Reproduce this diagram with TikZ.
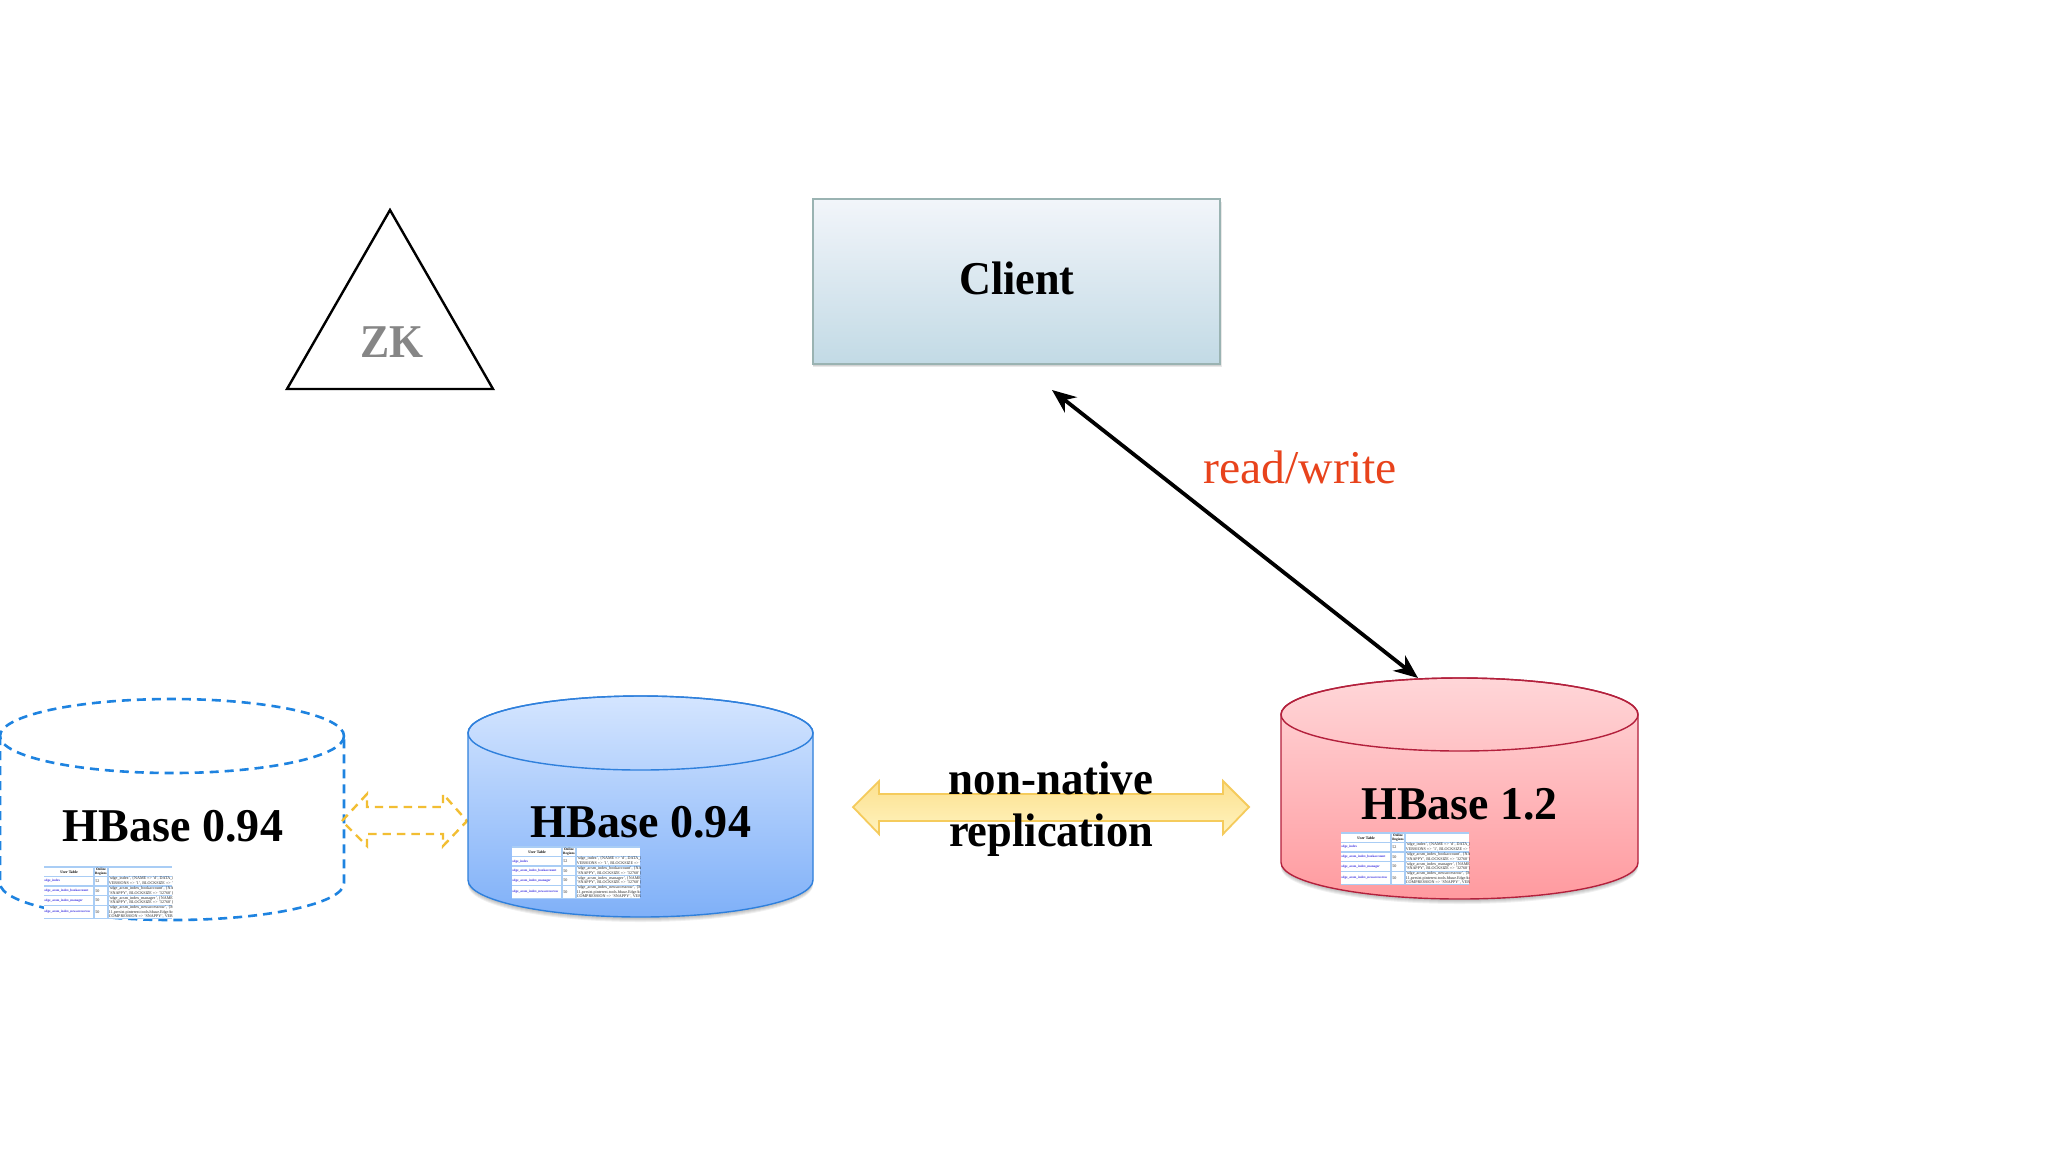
\documentclass[tikz,border=0pt]{standalone}
\usepackage{fontspec}
\usepackage{graphicx}
\usetikzlibrary{arrows.meta}
\setmainfont{Liberation Serif}
\definecolor{blueedge}{HTML}{2F80DC}
\definecolor{blueTop}{HTML}{D4E5FF}
\definecolor{blueBot}{HTML}{7FB0F8}
\definecolor{redEdge}{HTML}{B3203C}
\definecolor{redTop}{HTML}{FFD6D8}
\definecolor{redBot}{HTML}{FF9A9F}
\definecolor{dashblue}{HTML}{1E83E0}
\definecolor{dashyellow}{HTML}{F2BE33}
\definecolor{clientTop}{HTML}{F2F5FA}
\definecolor{clientBot}{HTML}{C2DAE5}
\definecolor{clientEdge}{HTML}{9AB3B2}
\definecolor{yellowEdge}{HTML}{F5CB5C}
\definecolor{yellowTop}{HTML}{FCE08F}
\definecolor{yellowBot}{HTML}{FFF3BE}
\definecolor{rwred}{HTML}{E8431C}
\definecolor{zkgray}{HTML}{868686}
\definecolor{gridblue}{HTML}{A9CDF5}
\definecolor{linkblue}{HTML}{3A2FE0}
\newcommand{\bigtext}{\fontsize{23.5pt}{26pt}\selectfont\bfseries}
\newcommand{\hbtable}[4]{% x, y, prefix, grid colour
  \begin{scope}[shift={(#1,#2)},name prefix=#3-]
    \fill[white] (0,0) rectangle (128,52);
    \draw[#4,line width=.6pt] (0,0) -- (128,0) (0,9.3) -- (128,9.3) (0,19) -- (128,19) (0,28.3) -- (128,28.3) (0,38.3) -- (128,38.3) (0,51.5) -- (128,51.5) (50,0) -- (50,51.5) (64,0) -- (64,51.5);
    \begin{scope}
      \clip (0,0) rectangle (128,52);
      \node[tabhead] (h1) at (25,4.7) {User Table};
      \node[tabhead,align=center,font=\fontsize{1.7pt}{2.1pt}\selectfont\bfseries] (h2) at (57,4.7) {Online\\Regions};
      \node[tablink] (a1) at (0,14.2) {sdge\_index};
      \node[tablink] (a2) at (0,23.7) {sdge\_acsm\_index\_bookaccount};
      \node[tablink] (a3) at (0,33.3) {sdge\_acsm\_index\_manager};
      \node[tablink] (a4) at (0,44.9) {sdge\_acsm\_index\_newaccessrow};
      \node[tabcell] (b1) at (51,14.2) {52};
      \node[tabcell] (b2) at (51,23.7) {50};
      \node[tabcell] (b3) at (51,33.3) {50};
      \node[tabcell] (b4) at (51,44.9) {50};
      \node[tabcell] (c1) at (64.5,14.2) {'sdge\_index', \{NAME => 'd', DATA\_BLOCK\\VERSIONS => '1', BLOCKSIZE => '6102};
      \node[tabcell] (c2) at (64.5,23.7) {'sdge\_acsm\_index\_bookaccount', \{NAME\\'SNAPPY', BLOCKSIZE => '32768'\}};
      \node[tabcell] (c3) at (64.5,33.3) {'sdge\_acsm\_index\_manager', \{NAME =>\\'SNAPPY', BLOCKSIZE => '32768'\}};
      \node[tabcell] (c4) at (64.5,44.9) {'sdge\_acsm\_index\_newaccessrow', \{METH\\11,persist.pinterest.tools.hbase.EdgeAccess\\COMPRESSION => 'SNAPPY', VERSIONS};
    \end{scope}
  \end{scope}}
\newcommand{\cylbody}[5]{% cx, upper cy, lower cy, rx, ry: outline with both the top and the bottom bulge
  (#1-#4,#2) -- (#1-#4,#3) arc[start angle=180,end angle=0,x radius=#4,y radius=#5] -- (#1+#4,#2) arc[start angle=360,end angle=180,x radius=#4,y radius=#5] -- cycle}
\tikzset{
  tabhead/.style={inner sep=0pt,text=black,font=\fontsize{1.9pt}{2.2pt}\selectfont\bfseries},
  tablink/.style={inner sep=0pt,anchor=west,text=linkblue,font=\fontsize{1.65pt}{2.2pt}\selectfont\bfseries},
  tabcell/.style={inner sep=0pt,anchor=west,align=left,text=black!85,font=\fontsize{2.05pt}{2.35pt}\selectfont},
  bigtxt/.style={inner sep=0pt,anchor=base,font=\bigtext,text=black},
  softshadow/.style={fill=black,opacity=.06,draw=none},
}
\begin{document}
\begin{tikzpicture}[x=.5pt,y=-.5pt]
\useasboundingbox (0,0) rectangle (2048,1152);
\fill[white] (0,0) rectangle (2048,1152);

% ZK triangle
\draw[black,line width=1.2pt,line join=miter] (390,210) -- (493,389) -- (287,389) -- cycle;
\node[bigtxt,text=zkgray] (zk) at (392,357) {\scalebox{.93}[1]{ZK}};

% Client
\foreach \d in {1,2,3} {\fill[black,opacity=.09] (813,199+\d) rectangle (1220+.5*\d,364+\d);}
\draw[clientEdge,line width=.7pt,top color=clientTop,bottom color=clientBot,middle color=clientBot!50!clientTop] (813,199) rectangle (1220,364);
\node[bigtxt] (client) at (1017,294) {\scalebox{.94}[1]{Client}};

% Dashed cylinder
\draw[dashblue,line width=1.3pt,dash pattern=on 4.5pt off 3pt] (0,736) -- (0,883) arc[start angle=180,end angle=0,x radius=172,y radius=37] -- (344,736);
\draw[dashblue,line width=1.3pt,dash pattern=on 4.5pt off 3pt] (172,736) ellipse[x radius=172,y radius=37];
\node[bigtxt] (old) at (173,841) {\scalebox{.98}[1]{HBase 0.94}};
\hbtable{44}{867}{t1}{gridblue}

% Dashed arrow
\draw[dashyellow,line width=1.2pt,dash pattern=on 4.2pt off 3pt]
  (342,821) -- (367,794) -- (367,807) -- (443,807) -- (443,794) -- (467,821) -- (443,846) -- (443,834) -- (367,834) -- (367,846) -- cycle;

% Blue cylinder
\foreach \d in {2,3,4,5} {\fill[softshadow] \cylbody{640.5}{733+\d}{880+\d}{172.5}{37};}
\draw[blueedge,line width=.7pt,top color=blueTop,bottom color=blueBot,middle color=blueTop!50!blueBot] \cylbody{640.5}{733}{880}{172.5}{37};
\draw[blueedge,line width=.7pt] (640.5,733) ellipse[x radius=172.5,y radius=37];
\node[bigtxt] (blue) at (641,837) {\scalebox{.98}[1]{HBase 0.94}};
\hbtable{512}{847}{t2}{gridblue}

% Red cylinder
\foreach \d in {2,3,4,5} {\fill[softshadow] \cylbody{1459.5}{714.5+\d}{862.5+\d}{178.5}{36.5};}
\draw[redEdge,line width=.7pt,top color=redTop,bottom color=redBot,middle color=redTop!50!redBot] \cylbody{1459.5}{714.5}{862.5}{178.5}{36.5};
\draw[redEdge,line width=.7pt] (1459.5,714.5) ellipse[x radius=178.5,y radius=36.5];
\node[bigtxt] (red) at (1459.5,819) {\scalebox{.975}[1]{HBase 1.2}};
\hbtable{1341}{833}{t3}{gridblue}

% Replication arrow
\draw[yellowEdge,line width=.9pt,line join=miter,top color=yellowTop,bottom color=yellowBot,middle color=yellowTop!50!yellowBot]
  (853,807) -- (879,781) -- (879,794) -- (1223,794) -- (1223,781) -- (1249,807) -- (1223,834) -- (1223,821) -- (879,821) -- (879,834) -- cycle;
\node[bigtxt] (rep1) at (1051,794) {\scalebox{.955}[1]{non-native}};
\node[bigtxt] (rep2) at (1051,846) {\scalebox{.945}[1]{replication}};

% read/write connector
\coordinate (rwtop) at (1052,390);
\coordinate (rwbottom) at (1418,678);
\draw[{Stealth[length=12pt,width=9.75pt]}-{Stealth[length=12pt,width=9.75pt]},black,line width=1.9pt] (rwtop) -- (rwbottom);
\node[inner sep=0pt,anchor=base,text=rwred,font=\fontsize{23.5pt}{26pt}\selectfont] (rw) at (1300,483) {\scalebox{1.015}[1]{read/write}};
\end{tikzpicture}
\end{document}
